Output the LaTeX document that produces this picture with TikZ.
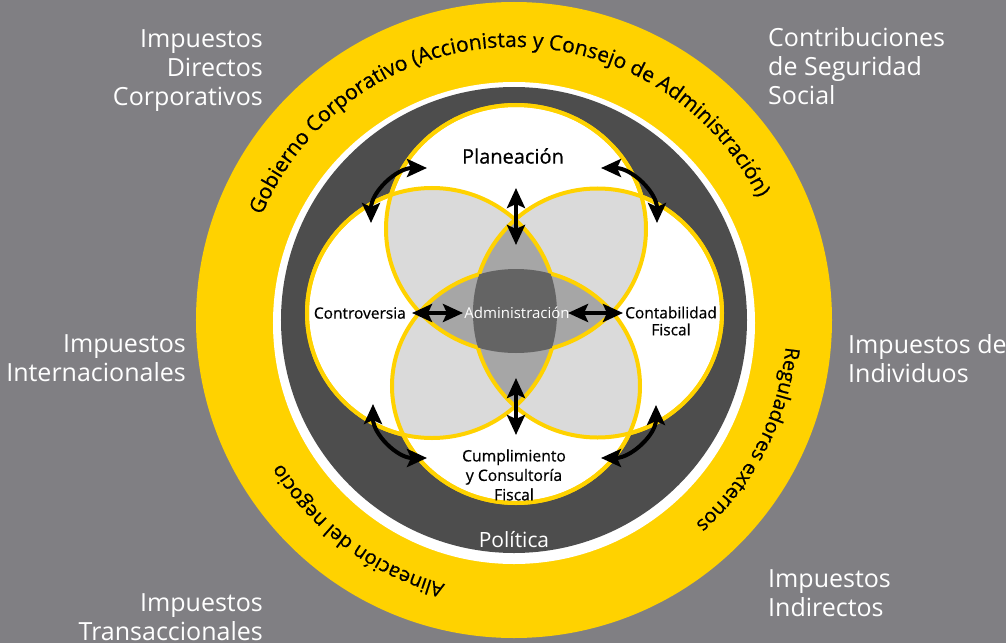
\documentclass[tikz,border=0pt]{standalone}
\usepackage{fontspec}
\setmainfont{Open Sans}
\newfontfamily\medfont{Open Sans}[FakeBold=0.6]
\usetikzlibrary{arrows.meta,decorations.text}
\definecolor{bggray}{RGB}{128,127,131}
\definecolor{eyyellow}{RGB}{255,210,0}
\definecolor{ringdark}{RGB}{77,77,77}
\definecolor{lgray}{RGB}{218,218,218}
\definecolor{mgray}{RGB}{166,166,166}
\definecolor{cgray}{RGB}{100,100,100}
\begin{document}
\begin{tikzpicture}[x=1pt,y=1pt,
  outer/.style={text=white,font=\fontsize{25pt}{29pt}\selectfont,inner sep=0pt},
  inlabel/.style={text=black,inner sep=0pt,align=center},
  petal/.style={draw=eyyellow,line width=4pt},
  dbl/.style={line width=4pt,{Stealth[length=20pt,width=18pt,inset=4pt]}-{Stealth[length=20pt,width=18pt,inset=4pt]}}
]
\def\petT{(2,91) ellipse[x radius=130pt,y radius=124pt]}
\def\petB{(2,-66) ellipse[x radius=124pt,y radius=117pt]}
\def\petL{(-82,7) circle[radius=125pt]}
\def\petR{(83.5,7) circle[radius=124.5pt]}
\def\bigbox{(-600,-400) -- (-600,400) -- (600,400) -- (600,-400) -- cycle}
% background
\fill[bggray] (-514,-323) rectangle (492,320);
\useasboundingbox (-514,-323) rectangle (492,320);
% rings
\fill[eyyellow] (0,0) circle[radius=318pt];
\fill[white] (0,-3) circle[radius=241pt];
\fill[ringdark] (0,0) circle[radius=233pt];
% petals
\fill[white] \petT; \fill[white] \petB; \fill[white] \petL; \fill[white] \petR;
\begin{scope}\clip \petT; \fill[lgray] \petL; \fill[lgray] \petR; \fill[lgray] \petB;\end{scope}
\begin{scope}\clip \petB; \fill[lgray] \petL; \fill[lgray] \petR;\end{scope}
\begin{scope}\clip \petL; \fill[lgray] \petR;\end{scope}
\begin{scope}\clip \petL; \clip \petR; \fill[mgray] \petT; \fill[mgray] \petB;\end{scope}
\begin{scope}\clip \petT; \clip \petB; \fill[mgray] \petL; \fill[mgray] \petR;\end{scope}
\begin{scope}\clip \petT; \clip \petB; \clip \petL; \fill[cgray] \petR;\end{scope}
% petal outlines (not inside the central region)
\begin{scope}\clip \bigbox \petL; \draw[petal] \petT; \draw[petal] \petB;\end{scope}
\begin{scope}\clip \bigbox \petR; \draw[petal] \petT; \draw[petal] \petB;\end{scope}
\begin{scope}\clip \bigbox \petT; \draw[petal] \petL; \draw[petal] \petR;\end{scope}
\begin{scope}\clip \bigbox \petB; \draw[petal] \petL; \draw[petal] \petR;\end{scope}
% ring texts
\path[decorate,decoration={text along path,text align=center,
  text={|\medfont\fontsize{21pt}{24pt}\selectfont|Gobierno Corporativo (Accionistas y Consejo de Administración)}}]
  (172:273pt) arc[start angle=172,end angle=12,radius=273pt];
\path[decorate,decoration={text along path,text align=center,
  text={|\medfont\fontsize{20pt}{24pt}\selectfont|Reguladores externos}}]
  (20:273pt) arc[start angle=20,end angle=-74,radius=273pt];
\path[decorate,decoration={text along path,text align=center,
  text={|\medfont\fontsize{20pt}{24pt}\selectfont|Alineación del negocio}}]
  (290:273pt) arc[start angle=290,end angle=177,radius=273pt];
% outer labels
\node[outer,anchor=east,align=right] (idc) at (-251,249.5) {Impuestos\\Directos\\Corporativos};
\node[outer,anchor=west,align=left] (css) at (254,253.5) {Contribuciones\\de Seguridad\\Social};
\node[outer,anchor=east,align=right] (iint) at (-328,-38.5) {Impuestos\\Internacionales};
\node[outer,anchor=west,align=left] (iind) at (334,-38.5) {Impuestos de\\Individuos};
\node[outer,anchor=east,align=right] (itr) at (-251,-297.5) {Impuestos\\Transaccionales};
\node[outer,anchor=west,align=left] (iinr) at (254,-273.5) {Impuestos\\Indirectos};
% inner labels
\node[inlabel,font=\medfont\fontsize{20pt}{24pt}\selectfont] (plan) at (-1,164) {Planeación};
\node[inlabel,anchor=east,font=\medfont\fontsize{15.5pt}{18pt}\selectfont] (contr) at (-108,7) {Controversia};
\node[inlabel,text=white,font=\fontsize{15pt}{18pt}\selectfont] (adm) at (3,7) {Administración};
\node[inlabel,font=\medfont\fontsize{15.5pt}{17pt}\selectfont] (cont) at (157,-1) {Contabilidad\\Fiscal};
\node[inlabel,font=\medfont\fontsize{15.7pt}{19.5pt}\selectfont] (cump) at (0,-155) {Cumplimiento\\y Consultoría\\Fiscal};
\node[inlabel,text=white,font=\fontsize{21pt}{24pt}\selectfont] (pol) at (0,-220) {Política};
% arrow end points
\coordinate (tv1) at (2,132); \coordinate (tv2) at (2,75);
\coordinate (bv1) at (2,-58); \coordinate (bv2) at (2,-115);
\coordinate (lh1) at (-102,7); \coordinate (lh2) at (-51,7);
\coordinate (rh1) at (54,7); \coordinate (rh2) at (109,7);
\coordinate (tl1) at (-143,97); \coordinate (tl2) at (-87,152);
\coordinate (tr1) at (87,152); \coordinate (tr2) at (143,97);
\coordinate (bl1) at (-141,-84); \coordinate (bl2) at (-87,-138);
\coordinate (br1) at (142,-85); \coordinate (br2) at (87,-138);
\draw[dbl] (tv1) -- (tv2);
\draw[dbl] (bv1) -- (bv2);
\draw[dbl] (lh1) -- (lh2);
\draw[dbl] (rh1) -- (rh2);
\draw[dbl] (tl1) to[out=90,in=180] (tl2);
\draw[dbl] (tr1) to[out=0,in=90] (tr2);
\draw[dbl] (bl1) to[out=-90,in=180] (bl2);
\draw[dbl] (br1) to[out=-90,in=0] (br2);
\end{tikzpicture}
\end{document}
